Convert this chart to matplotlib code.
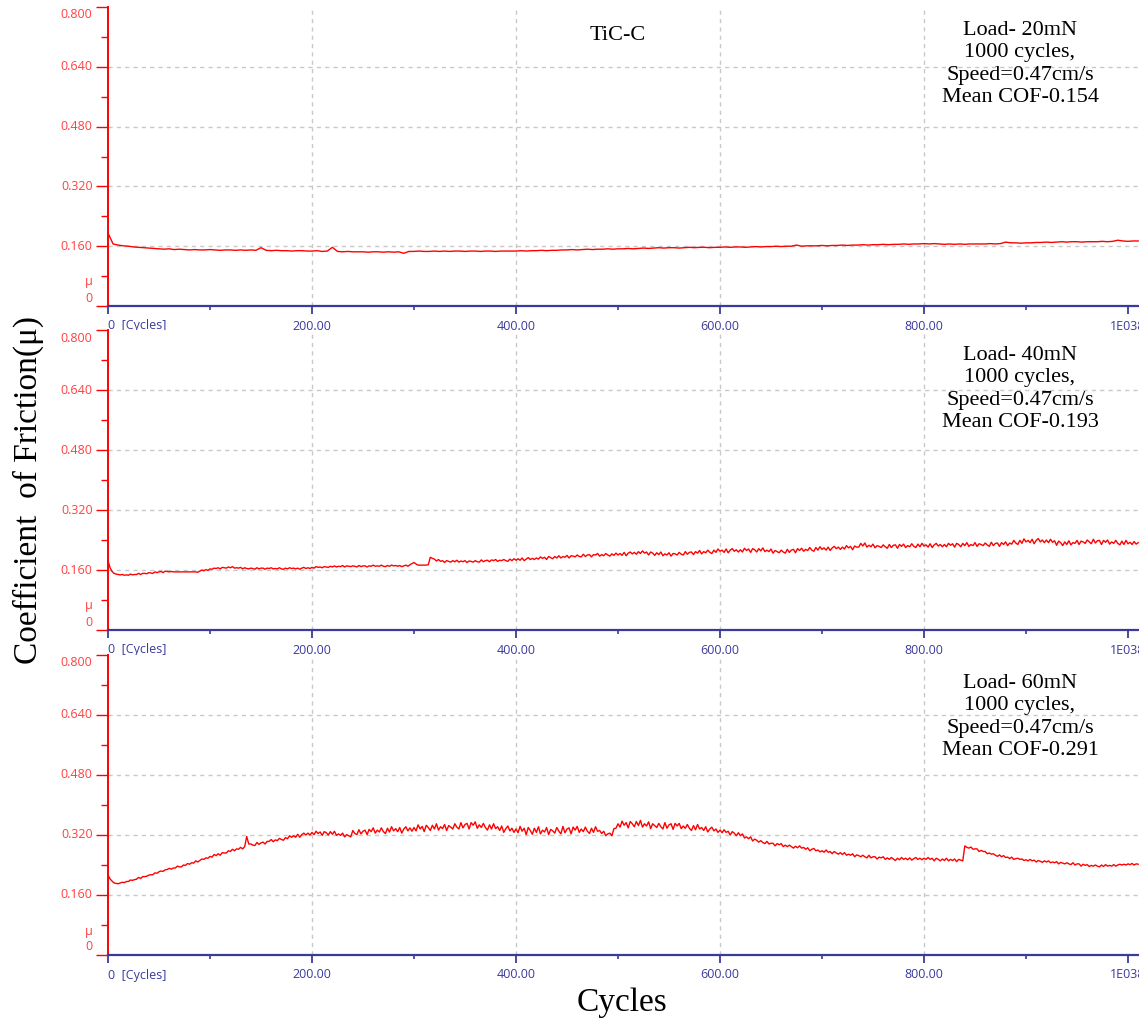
import numpy as np
import matplotlib
matplotlib.use("Agg")
import matplotlib.pyplot as plt
from matplotlib.ticker import FixedLocator

# ---------------------------------------------------------------- data
# Friction coefficient logged against sliding cycles for three normal loads.
cycles_20 = np.arange(0, 1011, 5)
cof_20 = [
    0.195, 0.166, 0.163, 0.161, 0.160, 0.158, 0.157, 0.156, 0.155, 0.154,
    0.153, 0.152, 0.153, 0.151, 0.152, 0.151, 0.150, 0.151, 0.150, 0.150,
    0.151, 0.150, 0.149, 0.150, 0.150, 0.149, 0.150, 0.149, 0.150, 0.149,
    0.156, 0.149, 0.148, 0.149, 0.148, 0.148, 0.147, 0.148, 0.148, 0.147,
    0.147, 0.148, 0.146, 0.147, 0.157, 0.146, 0.145, 0.146, 0.145, 0.145,
    0.145, 0.144, 0.145, 0.145, 0.144, 0.145, 0.144, 0.145, 0.141, 0.146,
    0.146, 0.147, 0.146, 0.146, 0.147, 0.146, 0.147, 0.146, 0.147, 0.147,
    0.146, 0.147, 0.147, 0.146, 0.147, 0.147, 0.146, 0.147, 0.147, 0.147,
    0.147, 0.148, 0.147, 0.148, 0.148, 0.149, 0.148, 0.149, 0.149, 0.150,
    0.150, 0.151, 0.150, 0.151, 0.152, 0.151, 0.152, 0.152, 0.153, 0.152,
    0.153, 0.153, 0.154, 0.153, 0.154, 0.155, 0.154, 0.155, 0.156, 0.155,
    0.156, 0.156, 0.155, 0.156, 0.157, 0.156, 0.157, 0.157, 0.156, 0.157,
    0.157, 0.158, 0.157, 0.158, 0.158, 0.157, 0.158, 0.159, 0.158, 0.159,
    0.159, 0.160, 0.159, 0.160, 0.160, 0.163, 0.160, 0.161, 0.161, 0.161,
    0.162, 0.161, 0.162, 0.162, 0.163, 0.162, 0.163, 0.163, 0.164, 0.163,
    0.164, 0.164, 0.165, 0.164, 0.165, 0.165, 0.166, 0.165, 0.166, 0.166,
    0.167, 0.166, 0.167, 0.166, 0.165, 0.166, 0.165, 0.166, 0.165, 0.166,
    0.166, 0.166, 0.166, 0.167, 0.166, 0.167, 0.171, 0.169, 0.169, 0.168,
    0.169, 0.169, 0.170, 0.170, 0.171, 0.170, 0.171, 0.172, 0.171, 0.172,
    0.172, 0.171, 0.172, 0.172, 0.172, 0.173, 0.172, 0.173, 0.176, 0.174,
    0.173, 0.174, 0.174,
]

cycles_40 = np.arange(0, 1011, 2)
cof_40 = [
    0.185, 0.166, 0.156, 0.151, 0.149, 0.148, 0.147, 0.148, 0.146, 0.147,
    0.146, 0.149, 0.147, 0.148, 0.148, 0.151, 0.148, 0.151, 0.151, 0.150,
    0.153, 0.152, 0.151, 0.155, 0.153, 0.155, 0.156, 0.153, 0.157, 0.156,
    0.155, 0.156, 0.155, 0.155, 0.155, 0.155, 0.155, 0.155, 0.155, 0.155,
    0.155, 0.155, 0.155, 0.155, 0.154, 0.157, 0.160, 0.158, 0.161, 0.159,
    0.163, 0.162, 0.165, 0.164, 0.166, 0.163, 0.167, 0.166, 0.165, 0.168,
    0.166, 0.169, 0.165, 0.166, 0.165, 0.167, 0.163, 0.166, 0.164, 0.163,
    0.165, 0.164, 0.162, 0.166, 0.163, 0.165, 0.165, 0.162, 0.165, 0.164,
    0.166, 0.163, 0.164, 0.163, 0.166, 0.163, 0.162, 0.165, 0.163, 0.166,
    0.164, 0.165, 0.163, 0.165, 0.162, 0.165, 0.167, 0.164, 0.166, 0.164,
    0.167, 0.165, 0.169, 0.167, 0.168, 0.166, 0.169, 0.168, 0.167, 0.170,
    0.168, 0.171, 0.168, 0.170, 0.169, 0.172, 0.168, 0.171, 0.170, 0.169,
    0.171, 0.170, 0.168, 0.172, 0.169, 0.171, 0.171, 0.168, 0.171, 0.170,
    0.173, 0.170, 0.171, 0.170, 0.173, 0.170, 0.169, 0.172, 0.170, 0.173,
    0.171, 0.172, 0.170, 0.172, 0.169, 0.171, 0.173, 0.170, 0.174, 0.177,
    0.180, 0.176, 0.173, 0.173, 0.173, 0.173, 0.173, 0.174, 0.194, 0.191,
    0.189, 0.184, 0.188, 0.183, 0.185, 0.180, 0.185, 0.183, 0.181, 0.185,
    0.182, 0.186, 0.181, 0.184, 0.182, 0.185, 0.180, 0.184, 0.183, 0.181,
    0.185, 0.182, 0.181, 0.187, 0.182, 0.185, 0.186, 0.182, 0.187, 0.185,
    0.188, 0.183, 0.186, 0.185, 0.188, 0.185, 0.183, 0.189, 0.185, 0.190,
    0.186, 0.190, 0.186, 0.192, 0.185, 0.189, 0.193, 0.188, 0.191, 0.188,
    0.192, 0.189, 0.195, 0.191, 0.194, 0.188, 0.196, 0.193, 0.190, 0.196,
    0.192, 0.198, 0.192, 0.196, 0.194, 0.199, 0.192, 0.198, 0.197, 0.195,
    0.200, 0.196, 0.195, 0.202, 0.196, 0.200, 0.201, 0.195, 0.201, 0.200,
    0.204, 0.197, 0.201, 0.198, 0.204, 0.200, 0.197, 0.203, 0.199, 0.205,
    0.200, 0.204, 0.199, 0.207, 0.198, 0.205, 0.208, 0.203, 0.207, 0.202,
    0.209, 0.204, 0.211, 0.205, 0.208, 0.200, 0.208, 0.205, 0.199, 0.206,
    0.201, 0.208, 0.198, 0.203, 0.200, 0.206, 0.197, 0.204, 0.203, 0.200,
    0.207, 0.202, 0.200, 0.209, 0.202, 0.207, 0.208, 0.201, 0.209, 0.205,
    0.212, 0.203, 0.209, 0.206, 0.213, 0.207, 0.204, 0.213, 0.207, 0.216,
    0.210, 0.213, 0.207, 0.216, 0.206, 0.213, 0.217, 0.210, 0.214, 0.208,
    0.214, 0.208, 0.218, 0.212, 0.216, 0.207, 0.217, 0.214, 0.208, 0.217,
    0.211, 0.219, 0.209, 0.213, 0.209, 0.216, 0.205, 0.212, 0.209, 0.206,
    0.213, 0.208, 0.205, 0.215, 0.207, 0.213, 0.215, 0.206, 0.217, 0.212,
    0.218, 0.210, 0.215, 0.212, 0.220, 0.213, 0.210, 0.220, 0.213, 0.222,
    0.215, 0.219, 0.213, 0.221, 0.212, 0.219, 0.223, 0.217, 0.221, 0.215,
    0.221, 0.216, 0.225, 0.219, 0.223, 0.214, 0.224, 0.221, 0.221, 0.231,
    0.224, 0.232, 0.221, 0.226, 0.222, 0.229, 0.219, 0.225, 0.223, 0.220,
    0.227, 0.222, 0.218, 0.228, 0.220, 0.226, 0.227, 0.218, 0.228, 0.223,
    0.229, 0.220, 0.225, 0.222, 0.230, 0.223, 0.220, 0.229, 0.222, 0.231,
    0.224, 0.227, 0.221, 0.230, 0.220, 0.227, 0.231, 0.224, 0.228, 0.222,
    0.228, 0.222, 0.231, 0.226, 0.230, 0.221, 0.231, 0.228, 0.222, 0.231,
    0.225, 0.233, 0.223, 0.228, 0.225, 0.233, 0.223, 0.230, 0.228, 0.225,
    0.232, 0.227, 0.223, 0.234, 0.225, 0.231, 0.232, 0.223, 0.233, 0.228,
    0.235, 0.225, 0.232, 0.229, 0.239, 0.232, 0.228, 0.239, 0.231, 0.243,
    0.235, 0.239, 0.233, 0.242, 0.230, 0.239, 0.244, 0.235, 0.240, 0.233,
    0.240, 0.233, 0.242, 0.234, 0.238, 0.226, 0.237, 0.233, 0.225, 0.235,
    0.228, 0.238, 0.227, 0.233, 0.231, 0.239, 0.228, 0.237, 0.235, 0.231,
    0.240, 0.235, 0.230, 0.242, 0.232, 0.238, 0.239, 0.228, 0.239, 0.234,
    0.240, 0.229, 0.235, 0.231, 0.239, 0.231, 0.227, 0.237, 0.228, 0.239,
    0.230, 0.234, 0.228, 0.236, 0.229, 0.233,
]

cycles_60 = np.arange(0, 1011, 2)
cof_60 = [
    0.213, 0.203, 0.197, 0.192, 0.191, 0.190, 0.192, 0.194, 0.193, 0.196,
    0.196, 0.200, 0.199, 0.201, 0.202, 0.207, 0.204, 0.209, 0.209, 0.210,
    0.213, 0.214, 0.214, 0.219, 0.218, 0.222, 0.224, 0.223, 0.227, 0.228,
    0.231, 0.229, 0.232, 0.232, 0.237, 0.235, 0.235, 0.240, 0.239, 0.244,
    0.242, 0.246, 0.245, 0.251, 0.248, 0.252, 0.256, 0.255, 0.259, 0.258,
    0.263, 0.261, 0.268, 0.265, 0.270, 0.266, 0.273, 0.272, 0.272, 0.278,
    0.276, 0.282, 0.278, 0.283, 0.282, 0.287, 0.283, 0.289, 0.316, 0.296,
    0.296, 0.293, 0.292, 0.300, 0.295, 0.299, 0.301, 0.296, 0.303, 0.303,
    0.308, 0.302, 0.307, 0.305, 0.311, 0.308, 0.306, 0.313, 0.310, 0.318,
    0.314, 0.318, 0.314, 0.322, 0.314, 0.321, 0.325, 0.320, 0.325, 0.320,
    0.327, 0.321, 0.330, 0.324, 0.328, 0.319, 0.329, 0.326, 0.320, 0.329,
    0.322, 0.330, 0.319, 0.323, 0.319, 0.325, 0.315, 0.321, 0.318, 0.315,
    0.332, 0.324, 0.321, 0.334, 0.323, 0.330, 0.333, 0.321, 0.335, 0.329,
    0.339, 0.325, 0.333, 0.328, 0.339, 0.329, 0.324, 0.338, 0.328, 0.342,
    0.331, 0.337, 0.329, 0.340, 0.325, 0.336, 0.342, 0.331, 0.339, 0.330,
    0.340, 0.331, 0.347, 0.336, 0.343, 0.329, 0.346, 0.340, 0.332, 0.346,
    0.336, 0.350, 0.333, 0.342, 0.337, 0.348, 0.332, 0.345, 0.341, 0.336,
    0.350, 0.341, 0.336, 0.353, 0.339, 0.348, 0.351, 0.336, 0.353, 0.346,
    0.355, 0.338, 0.347, 0.340, 0.351, 0.340, 0.333, 0.347, 0.336, 0.350,
    0.337, 0.342, 0.332, 0.344, 0.327, 0.337, 0.344, 0.331, 0.338, 0.327,
    0.336, 0.326, 0.343, 0.330, 0.338, 0.321, 0.340, 0.332, 0.322, 0.338,
    0.327, 0.342, 0.323, 0.333, 0.328, 0.340, 0.321, 0.335, 0.331, 0.325,
    0.340, 0.330, 0.323, 0.343, 0.326, 0.336, 0.339, 0.323, 0.341, 0.333,
    0.343, 0.327, 0.336, 0.329, 0.341, 0.330, 0.324, 0.338, 0.327, 0.342,
    0.330, 0.332, 0.324, 0.330, 0.318, 0.323, 0.325, 0.318, 0.337, 0.338,
    0.350, 0.341, 0.357, 0.346, 0.353, 0.339, 0.356, 0.350, 0.342, 0.356,
    0.345, 0.359, 0.341, 0.350, 0.344, 0.355, 0.337, 0.350, 0.345, 0.340,
    0.351, 0.342, 0.336, 0.353, 0.338, 0.347, 0.350, 0.335, 0.351, 0.344,
    0.351, 0.337, 0.344, 0.338, 0.348, 0.338, 0.332, 0.345, 0.334, 0.348,
    0.336, 0.340, 0.332, 0.342, 0.328, 0.336, 0.341, 0.331, 0.336, 0.327,
    0.333, 0.326, 0.334, 0.327, 0.330, 0.320, 0.329, 0.325, 0.318, 0.326,
    0.318, 0.323, 0.312, 0.315, 0.310, 0.315, 0.304, 0.309, 0.306, 0.301,
    0.305, 0.300, 0.297, 0.303, 0.296, 0.298, 0.298, 0.291, 0.297, 0.294,
    0.297, 0.289, 0.293, 0.289, 0.293, 0.289, 0.285, 0.290, 0.286, 0.291,
    0.285, 0.287, 0.282, 0.286, 0.278, 0.282, 0.284, 0.278, 0.280, 0.275,
    0.278, 0.274, 0.280, 0.274, 0.276, 0.270, 0.276, 0.272, 0.269, 0.273,
    0.268, 0.273, 0.266, 0.269, 0.266, 0.270, 0.262, 0.267, 0.265, 0.262,
    0.266, 0.262, 0.259, 0.266, 0.259, 0.262, 0.262, 0.256, 0.261, 0.259,
    0.262, 0.255, 0.259, 0.255, 0.260, 0.256, 0.252, 0.258, 0.254, 0.260,
    0.255, 0.258, 0.254, 0.259, 0.253, 0.257, 0.260, 0.255, 0.258, 0.254,
    0.258, 0.255, 0.260, 0.255, 0.258, 0.251, 0.258, 0.255, 0.251, 0.256,
    0.252, 0.258, 0.251, 0.255, 0.252, 0.256, 0.249, 0.255, 0.253, 0.251,
    0.291, 0.287, 0.285, 0.288, 0.282, 0.283, 0.283, 0.276, 0.279, 0.276,
    0.276, 0.270, 0.272, 0.269, 0.270, 0.266, 0.263, 0.267, 0.262, 0.265,
    0.260, 0.261, 0.257, 0.261, 0.255, 0.257, 0.258, 0.255, 0.256, 0.252,
    0.254, 0.251, 0.255, 0.251, 0.253, 0.248, 0.252, 0.250, 0.247, 0.251,
    0.248, 0.251, 0.246, 0.248, 0.246, 0.249, 0.243, 0.247, 0.245, 0.243,
    0.246, 0.243, 0.241, 0.246, 0.240, 0.243, 0.243, 0.237, 0.242, 0.239,
    0.241, 0.236, 0.239, 0.237, 0.240, 0.237, 0.235, 0.240, 0.236, 0.241,
    0.237, 0.239, 0.237, 0.241, 0.237, 0.240, 0.242, 0.240, 0.242, 0.240,
    0.243, 0.241, 0.244, 0.240, 0.243, 0.242,
]

loads = ["20mN", "40mN", "60mN"]
mean_cof = ["0.154", "0.193", "0.291"]
sample_name = "TiC-C"

y_ticks = [0, 0.16, 0.32, 0.48, 0.64, 0.8]
y_tick_labels = ["0", "0.160", "0.320", "0.480", "0.640", "0.800"]
y_minor = [0.08, 0.24, 0.40, 0.56, 0.72]
x_ticks = [0, 200, 400, 600, 800, 1000]
x_tick_labels = ["0  [Cycles]", "200.00", "400.00", "600.00", "800.00", "1E038"]
x_minor = [100, 300, 500, 700, 900]
x_grid = [200, 400, 600, 800]
y_grid = [0.16, 0.32, 0.48, 0.64]

# ---------------------------------------------------------------- style
W, H = 1139, 1026
RED = "#FF0000"
LABEL_RED = "#FF4040"
NAVY = "#3A3A9E"
GRID = "#C8C8C8"
SERIF = ["Liberation Serif", "DejaVu Serif"]
TICK_FONT = ["Open Sans", "DejaVu Sans"]

fig = plt.figure(figsize=(W / 100, H / 100), dpi=100)
fig.patch.set_facecolor("white")

# axes boxes in pixels: (top, bottom); left edge at 108 px, right at figure edge
panel_px = [(7, 306), (330, 630), (655, 955)]
left_px = 108
series = [(cycles_20, cof_20), (cycles_40, cof_40), (cycles_60, cof_60)]
note_centers = [64, 389, 717]

for i, ((top, bot), (cx, cy)) in enumerate(zip(panel_px, series)):
    ax = fig.add_axes([left_px / W, 1 - bot / H, (W - left_px) / W, (bot - top) / H])
    ax.set_xlim(0, (W - left_px) / 1.02)
    ax.set_ylim(0, 0.8)

    for s in ("top", "right"):
        ax.spines[s].set_visible(False)
    ax.spines["left"].set_color(RED)
    ax.spines["left"].set_linewidth(1.4)
    ax.spines["bottom"].set_color(NAVY)
    ax.spines["bottom"].set_linewidth(1.6)

    for gx in x_grid:
        ax.axvline(gx, color=GRID, lw=1.0, ls=(0, (3, 3)), zorder=0)
    for gy in y_grid:
        ax.axhline(gy, color=GRID, lw=1.0, ls=(0, (3, 3)), zorder=0)

    ax.plot(cx, cy, color=RED, lw=1.0, zorder=3)

    ax.yaxis.set_major_locator(FixedLocator(y_ticks))
    ax.yaxis.set_minor_locator(FixedLocator(y_minor))
    ax.xaxis.set_major_locator(FixedLocator(x_ticks))
    ax.xaxis.set_minor_locator(FixedLocator(x_minor))
    ax.tick_params(axis="y", which="major", length=8.6, width=1.0, color=RED,
                   direction="out", labelleft=False)
    ax.tick_params(axis="y", which="minor", length=5.0, width=1.0, color=RED,
                   direction="out")
    ax.tick_params(axis="x", which="major", length=5.5, width=1.3, color=NAVY,
                   direction="out", labelbottom=False)
    ax.tick_params(axis="x", which="minor", length=3.0, width=1.2, color=NAVY,
                   direction="out")

    # value labels along the friction axis
    for v, lab in zip(y_ticks, y_tick_labels):
        dy = 0
        if v == 0:
            dy = 8
        elif v == 0.8:
            dy = -8
        ax.annotate(lab, xy=(0, v), xycoords=("axes fraction", "data"),
                    xytext=(-15.5, dy), textcoords="offset pixels",
                    ha="right", va="center", color=LABEL_RED,
                    fontsize=9, family=TICK_FONT)
    ax.annotate("μ", xy=(0, 0), xycoords=("axes fraction", "data"),
                xytext=(-15.5, 24), textcoords="offset pixels",
                ha="right", va="center", color=LABEL_RED,
                fontsize=9, family=TICK_FONT)

    # cycle labels below the axis
    for v, lab in zip(x_ticks, x_tick_labels):
        ha = "left" if v == 0 else "center"
        ax.annotate(lab, xy=(v, 0), xycoords=("data", "axes fraction"),
                    xytext=(0, -20), textcoords="offset pixels",
                    ha=ha, va="center", color=NAVY,
                    fontsize=9, family=TICK_FONT, annotation_clip=False)

    note = f"Load- {loads[i]}\n1000 cycles,\nSpeed=0.47cm/s\nMean COF-{mean_cof[i]}"
    fig.text(1020 / W, 1 - note_centers[i] / H, note, ha="center", va="center",
             multialignment="center", fontsize=16, family=SERIF,
             linespacing=1.24, color="black")

fig.text(618 / W, 1 - 35 / H, sample_name, ha="center", va="center",
         fontsize=16, family=SERIF, color="black")

fig.text(28 / W, 1 - 490 / H, "Coefficient  of Friction(μ)", rotation=90,
         ha="center", va="center", fontsize=24, family=SERIF, color="black")
fig.text(622 / W, 1 - 1003 / H, "Cycles", ha="center", va="center",
         fontsize=24, family=SERIF, color="black")

fig.savefig("out.png", dpi=100, facecolor="white")
